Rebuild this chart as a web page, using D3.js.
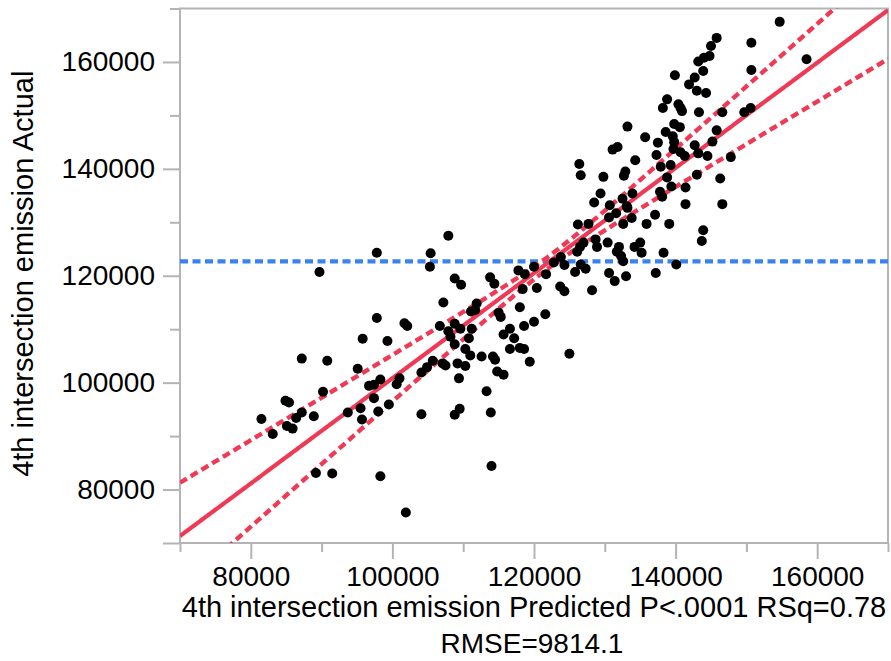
<!DOCTYPE html>
<html><head><meta charset="utf-8">
<script src="https://cdn.jsdelivr.net/npm/d3@7"></script>
<style>body{margin:0;background:#fff}</style>
</head><body>
<svg id="chart" width="891" height="661"></svg>
<script>
// ---- Data ----
const predicted = [
81500,83100,84900,85400,85100,85900,86400,87200,87200,88900,89200,89700,90200,90800,91500,
93700,95100,95500,95700,95800,96700,97400,98300,97400,98000,97800,97800,98300,99300,99500,
100600,101000,101700,102100,101900,104100,104100,104900,105700,105400,105300,106700,107100,107500,107200,
107900,107900,108200,108800,108800,109600,110300,110800,111000,111200,108800,109700,109200,110300,109400,
108800,109500,111100,111900,111700,112600,113300,113900,114000,113800,114400,114200,114500,115000,115300,
114800,115700,115700,116600,117200,116600,118000,118600,119400,118000,118600,118400,117800,118700,120000,
120400,120000,121600,121700,122800,123800,123700,124300,124300,125000,125800,126100,126500,127000,126600,
127300,126200,127700,126400,126600,128200,128700,128900,128500,129400,129800,130400,130600,131400,130700,
130600,131100,131800,131600,132000,132300,132600,132500,132600,132700,132900,133000,133200,133800,133900,
133200,134300,134200,135000,135200,135700,135900,137100,137200,137300,137500,137900,138100,138300,138200,
138800,138600,138800,139100,139300,139400,139600,139800,139900,140100,140400,140700,140900,140600,140700,
141300,141400,141400,141900,142700,143000,142700,143200,143000,143300,143200,143900,144000,144300,144500,
144800,145000,145200,143900,143700,145800,145800,146300,146600,146600,147800,149700,150600,150700,150700,
154700,158500,133100,139800,139700,131700,137800
];
const actual = [
93200,90400,96600,96300,91900,91400,93400,94400,104500,93700,83100,120700,98300,104100,83000,
94400,102600,95200,93100,108200,99400,99600,100600,97100,94600,124300,112100,82500,107800,95900,
99700,100800,111100,110600,75700,94100,101900,102900,104100,124200,121700,110600,103600,103200,115000,
127500,109600,108600,111000,107200,110100,106300,108300,105100,110100,119500,118300,103600,103100,100800,
94000,95100,113300,114800,113600,104900,98400,94400,84400,119700,118500,104900,104300,113100,112300,
102100,101500,109000,110100,108300,106300,106500,106300,103900,114100,110600,117500,121000,120300,121700,
117700,111400,112800,120300,122500,123500,118000,117100,122000,105400,120700,124500,125400,126200,122100,
121300,129600,129700,140900,138800,117300,126800,125400,133700,135400,138500,126200,120500,119000,133200,
130900,143600,144100,131700,125400,123700,122700,134400,129700,138700,139500,119900,132700,130800,135400,
147900,141600,125400,126200,124300,145900,129700,131400,120500,142600,144900,140400,134800,124300,151400,
153000,146900,138400,129700,140700,136700,146100,148400,157500,122100,152100,151400,150800,147800,143100,
142400,136500,133400,155800,157100,154600,144400,142900,138900,150600,160100,158300,160800,154200,142400,
161100,163000,145100,128500,126500,164500,147200,138200,150600,133400,142200,150600,151400,158500,163600,
167500,160500,133000,145000,143700,124500,135700
];
const xMajorTicks = [80000,100000,120000,140000,160000];
const xMinorTicks = [70000,90000,110000,130000,150000,170000];
const yMajorTicks = [70000,80000,100000,120000,140000,160000];
const yMinorTicks = [90000,110000,130000,150000,170000];
const axisDomain = [70000,170000];
const meanActual = 122700;          // horizontal mean line
const fitIntercept = 2420;          // fitted line: actual = intercept + slope * predicted
const fitSlope = 0.984;
const bandCenter = 122200;          // confidence-curve parameters
const bandHalfAtCenter = 1100;
const bandSlope = 0.19;
const xTitle = "4th intersection emission Predicted P<.0001 RSq=0.78";
const xTitle2 = "RMSE=9814.1";
const yTitle = "4th intersection emission Actual";

// ---- Layout ----
const L = 180, R = 888, T = 8.5, B = 543;
const svg = d3.select("#chart");
const font = "'Liberation Sans', Arial, Helvetica, sans-serif";
const x = d3.scaleLinear().domain(axisDomain).range([L, R]);
const y = d3.scaleLinear().domain(axisDomain).range([B, T]);
const frameColor = "#b4b4b4";
const red = "#f03a55", blue = "#3a82ee";

svg.append("defs").append("clipPath").attr("id","plotclip")
  .append("rect").attr("x",L).attr("y",T).attr("width",R-L).attr("height",B-T);

// axes
function styleAxis(g){
  g.select(".domain").remove();
  g.selectAll(".tick line").attr("stroke",frameColor).attr("stroke-width",2);
  g.selectAll(".tick text").attr("fill","#000").style("font-family",font).style("font-size","28px");
}
svg.append("g").attr("transform",`translate(0,${B})`)
  .call(d3.axisBottom(x).tickValues(xMajorTicks).tickSize(16).tickPadding(7).tickFormat(d3.format("d")))
  .call(styleAxis);
svg.append("g").attr("transform",`translate(0,${B})`)
  .call(d3.axisBottom(x).tickValues(xMinorTicks).tickSize(9).tickFormat(""))
  .call(styleAxis);
svg.append("g").attr("transform",`translate(${L},0)`)
  .call(d3.axisLeft(y).tickValues(yMajorTicks).tickSize(17).tickPadding(8)
    .tickFormat(d => d === 70000 ? "" : d3.format("d")(d)))
  .call(styleAxis);
svg.append("g").attr("transform",`translate(${L},0)`)
  .call(d3.axisLeft(y).tickValues(yMinorTicks).tickSize(10).tickFormat(""))
  .call(styleAxis);

// frame
svg.append("rect").attr("x",L).attr("y",T).attr("width",R-L).attr("height",B-T)
  .attr("fill","none").attr("stroke",frameColor).attr("stroke-width",2);

const plot = svg.append("g").attr("clip-path","url(#plotclip)");

// mean line
plot.append("line").attr("x1",x(axisDomain[0])).attr("x2",x(axisDomain[1]))
  .attr("y1",y(meanActual)).attr("y2",y(meanActual))
  .attr("stroke",blue).attr("stroke-width",4.2).attr("stroke-dasharray","8,4.5");

// fit line and confidence curves
const fit = v => fitIntercept + fitSlope * v;
const half = v => Math.sqrt(bandHalfAtCenter*bandHalfAtCenter + Math.pow(bandSlope*(v-bandCenter),2));
const xs = d3.range(axisDomain[0], axisDomain[1]+1, 500);
const lineGen = f => d3.line().x(v => x(v)).y(v => y(f(v)))(xs);
plot.append("path").attr("d", lineGen(v => fit(v)+half(v)))
  .attr("fill","none").attr("stroke",red).attr("stroke-width",4.4).attr("stroke-dasharray","8,4.5");
plot.append("path").attr("d", lineGen(v => fit(v)-half(v)))
  .attr("fill","none").attr("stroke",red).attr("stroke-width",4.4).attr("stroke-dasharray","8,4.5");
plot.append("path").attr("d", lineGen(fit))
  .attr("fill","none").attr("stroke",red).attr("stroke-width",4.2);

// points
plot.selectAll("circle").data(predicted.map((p,i)=>[p,actual[i]])).join("circle")
  .attr("cx",d=>x(d[0])).attr("cy",d=>y(d[1])).attr("r",5).attr("fill","#000");

// titles
svg.append("text").attr("x",(L+R)/2).attr("y",617).attr("text-anchor","middle")
  .style("font-family",font).style("font-size","29px").text(xTitle);
svg.append("text").attr("x",(L+R)/2 - 2).attr("y",653).attr("text-anchor","middle")
  .style("font-family",font).style("font-size","28px").text(xTitle2);
svg.append("text").attr("transform",`translate(33,${(T+B)/2 - 2}) rotate(-90)`).attr("text-anchor","middle")
  .style("font-family",font).style("font-size","29px").text(yTitle);
</script>
</body></html>
